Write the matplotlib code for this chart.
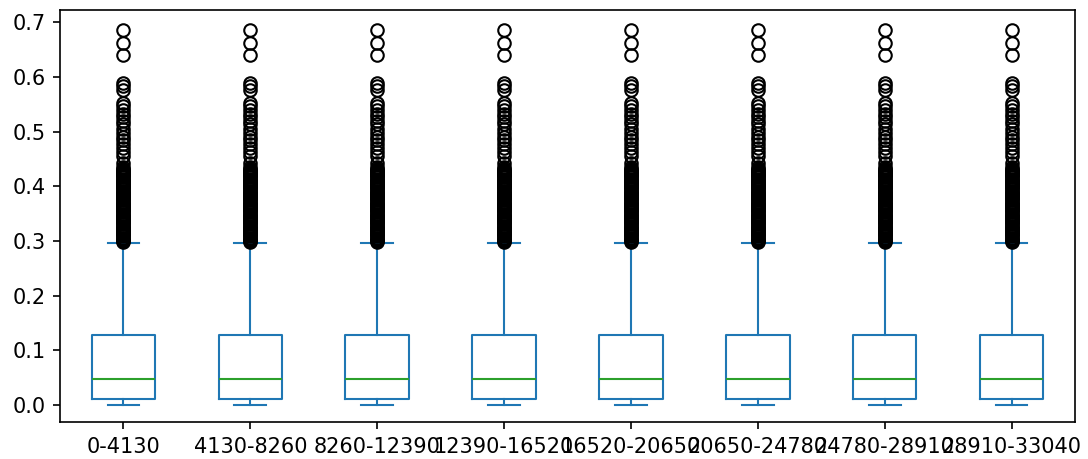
import matplotlib
matplotlib.use("Agg")
import matplotlib.pyplot as plt

# bins (column names)
labels = ['0-4130', '4130-8260', '8260-12390', '12390-16520',
          '16520-20650', '20650-24780', '24780-28910', '28910-33040']

# box statistics (same for every bin)
whislo = 0.0
q1 = 0.0103
med = 0.0464
q3 = 0.127
whishi = 0.297

# outliers above the upper whisker
fliers = [0.685, 0.663, 0.640,
          0.588, 0.583, 0.576,
          0.553, 0.547, 0.540, 0.533, 0.527, 0.520, 0.513, 0.505,
          0.498, 0.490, 0.484, 0.478, 0.470, 0.462, 0.455,
          0.443, 0.436, 0.432, 0.430, 0.428, 0.426, 0.424, 0.422,
          0.420, 0.418, 0.416, 0.414, 0.412, 0.410, 0.408, 0.406,
          0.404, 0.402, 0.400, 0.398, 0.396, 0.394, 0.392, 0.390,
          0.388, 0.386, 0.384, 0.382, 0.380, 0.378, 0.376, 0.374,
          0.372, 0.370, 0.368, 0.366, 0.364, 0.362, 0.360, 0.358,
          0.356, 0.354, 0.352, 0.350, 0.348, 0.346, 0.344, 0.342,
          0.340, 0.338, 0.336, 0.334, 0.332, 0.330, 0.328, 0.326,
          0.324, 0.322, 0.320, 0.318, 0.316, 0.314, 0.312, 0.310,
          0.308, 0.306, 0.304, 0.302, 0.300, 0.298]

stats = []
for lab in labels:
    stats.append({'label': lab, 'whislo': whislo, 'q1': q1, 'med': med,
                  'q3': q3, 'whishi': whishi, 'fliers': fliers})

dpi = 150
fig = plt.figure(figsize=(1088/dpi, 459/dpi), dpi=dpi)
ax = fig.add_axes([60/1088, 1-422/459, 1015/1088, 412/459])

ax.bxp(stats, widths=0.5, patch_artist=False,
       boxprops=dict(color='C0'),
       whiskerprops=dict(color='C0'),
       capprops=dict(color='C0'),
       medianprops=dict(color='C2'),
       flierprops=dict(marker='o', markeredgecolor='black', markerfacecolor='none'))

ax.set_xlim(0.5, len(labels) + 0.5)
ax.set_ylim(-0.0315, 0.7225)

fig.savefig('out.png', dpi=dpi)
